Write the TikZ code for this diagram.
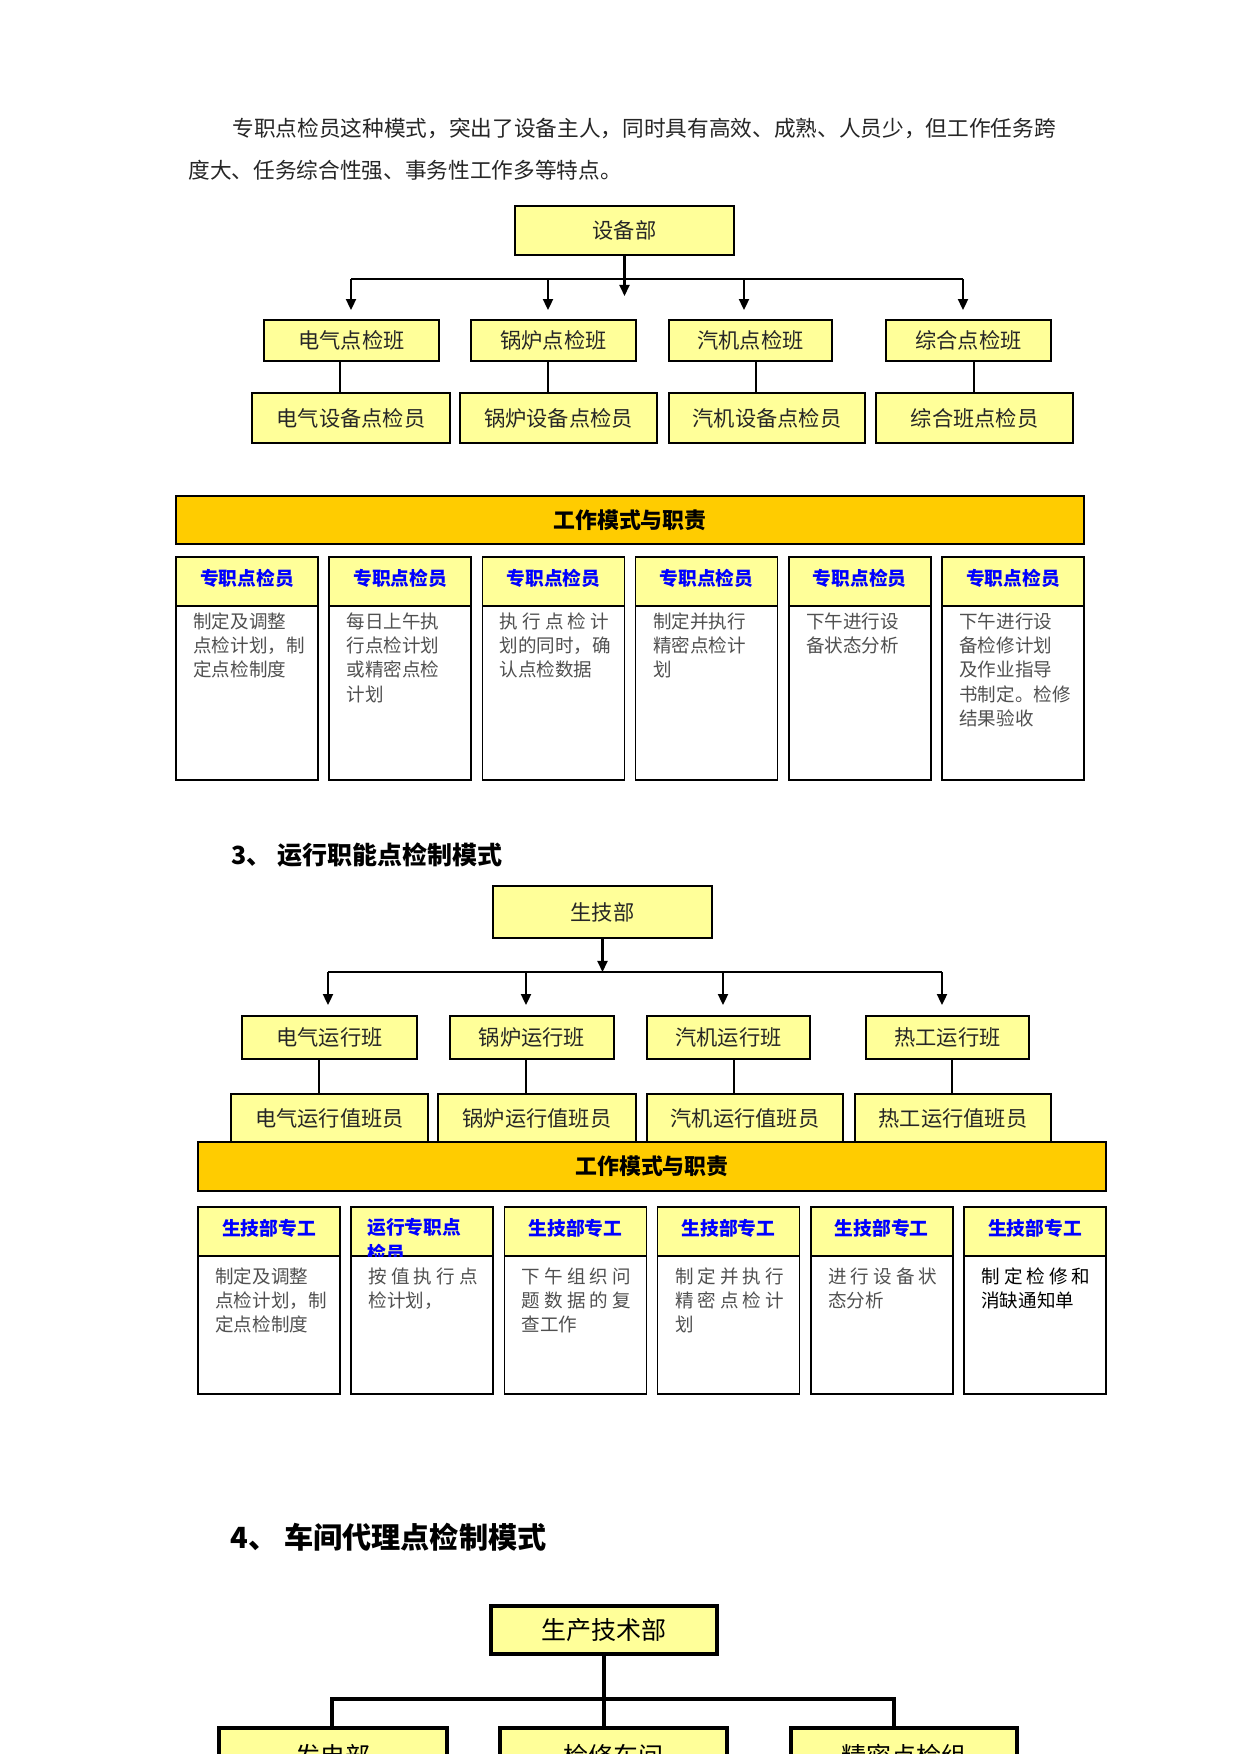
\documentclass[tikz,border=0pt]{standalone}
\usepackage{fontspec}
\setmainfont{Noto Sans CJK SC}
\usepackage{tikz}
\usetikzlibrary{positioning, arrows.meta}

\definecolor{boxyellow}{RGB}{255,255,153}
\definecolor{barorange}{RGB}{255,204,0}
\definecolor{bodygray}{RGB}{80,80,80}
\newcommand{\pxu}{0.48pt}
\newcommand{\spr}[1]{\makebox[52.3pt][s]{#1}}

\tikzset{
  unitbox/.style={draw, fill=boxyellow, line width=.9pt, inner sep=0pt, text=black!85,
    font=\fontsize{10.2pt}{12pt}\selectfont},
  dutybar/.style={draw, fill=barorange, line width=.9pt, inner sep=0pt,
    minimum width=908*\pxu, minimum height=48*\pxu, font=\fontsize{10.5pt}{12pt}\selectfont\bfseries},
  dutyhead/.style={draw, fill=boxyellow, line width=.7pt, inner sep=0pt, text depth=4pt,
    minimum width=142*\pxu, minimum height=49*\pxu, text=blue, font=\fontsize{9pt}{12pt}\selectfont\bfseries},
  dutycell/.style={draw, line width=.7pt, inner sep=0pt, minimum width=142*\pxu},
  dutytext/.style={anchor=north west, inner sep=0pt, align=left, text=bodygray,
    font=\fontsize{8.9pt}{11.7pt}\selectfont},
  heavybox/.style={draw, fill=boxyellow, line width=2.2pt, inner sep=0pt, font=\fontsize{12pt}{14pt}\selectfont},
  heavyline/.style={line width=2pt},
  plaintext/.style={anchor=west, inner sep=0pt, text=black!85},
}

\begin{document}
\begin{tikzpicture}[x=0.48pt, y=-0.48pt, >={Triangle[width=4.8pt,length=5.3pt]}]
  \useasboundingbox (0,0) rectangle (1241,1754);
  \fill[white] (0,0) rectangle (1241,1754);
  \clip (0,0) rectangle (1241,1754);

  % opening text
  \node[plaintext, font=\fontsize{10.4pt}{12pt}\selectfont] (para1) at (232,128)
    {专职点检员这种模式，突出了设备主人，同时具有高效、成熟、人员少，但工作任务跨};
  \node[plaintext, font=\fontsize{10.4pt}{12pt}\selectfont] (para2) at (188,170)
    {度大、任务综合性强、事务性工作多等特点。};

  %% equipment department chart
  \node[unitbox, minimum width=219*\pxu, minimum height=49*\pxu] (eqdept) at (624.5,230.5) {设备部};
  \foreach \i/\x/\w/\t in {1/351.5/175/电气点检班, 2/553.5/165/锅炉点检班,
                           3/750.5/163/汽机点检班, 4/968.5/165/综合点检班}
    \node[unitbox, minimum width=\w*\pxu, minimum height=41*\pxu] (eqcls\i) at (\x,340.5) {\t};
  \foreach \i/\x/\w/\t in {1/351/198/电气设备点检员, 2/558.5/197/锅炉设备点检员,
                           3/767/196/汽机设备点检员, 4/974.5/197/综合班点检员}
    \node[unitbox, minimum width=\w*\pxu, minimum height=50*\pxu] (eqmem\i) at (\x,418) {\t};

  \coordinate (eqbusL) at (351,279);
  \coordinate (eqbusR) at (963,279);
  \coordinate (eqtip) at (624.5,296);
  \draw[line width=.6pt] (eqbusL) -- (eqbusR);
  \draw[->, line width=1pt] (eqdept.south) -- (eqtip);
  \foreach \i/\x in {1/351, 2/548, 3/744, 4/963}
    \draw[->, line width=1pt, shorten >=9*\pxu] (\x,0 |- eqbusL) -- (\x,0 |- eqcls\i.north);
  \foreach \i/\x/\lw in {1/340/.5, 2/548/1.1, 3/756/.8, 4/974/.5}
    \draw[line width=\lw pt] (\x,0 |- eqcls\i.south) -- (\x,0 |- eqmem\i.north);

  % duties, inspectors
  \node[dutybar] (dutyA) at (630,520) {工作模式与职责};
  \foreach \i/\txt in {1/{制定及调整\\点检计划，制\\定点检制度},
                       2/{每日上午执\\行点检计划\\或精密点检\\计划},
                       3/{\spr{执 行 点 检 计}\\划的同时，确\\认点检数据},
                       4/{制定并执行\\精密点检计\\划},
                       5/{下午进行设\\备状态分析},
                       6/{下午进行设\\备检修计划\\及作业指导\\书制定。检修\\结果验收}} {
    \pgfmathsetmacro\xl{176+153.2*(\i-1)}
    \node[dutycell, minimum height=174*\pxu] (bodyA\i) at (\xl+71,693) {};
    \node[dutyhead] (headA\i) at (\xl+71,581.5) {专职点检员};
    \node[dutytext] (textA\i) at (\xl+17,612) {\txt};
  }

  % section 3
  \node[plaintext, text=black, font=\fontsize{12pt}{14pt}\selectfont\bfseries] (sec3) at (231,855)
    {3、 运行职能点检制模式};

  \node[unitbox, minimum width=219*\pxu, minimum height=52*\pxu] (prdept) at (602.5,912) {生技部};
  \foreach \i/\x/\w/\t in {1/329.5/175/电气运行班, 2/532/164/锅炉运行班,
                           3/728.5/163/汽机运行班, 4/947.5/163/热工运行班}
    \node[unitbox, minimum width=\w*\pxu, minimum height=43*\pxu] (prcls\i) at (\x,1037.5) {\t};
  \foreach \i/\x/\w/\t in {1/329.5/197/电气运行值班员, 2/537/198/锅炉运行值班员,
                           3/745/196/汽机运行值班员, 4/953/196/热工运行值班员}
    \node[unitbox, minimum width=\w*\pxu, minimum height=48*\pxu] (prmem\i) at (\x,1118) {\t};

  \coordinate (prbusL) at (328,972);
  \coordinate (prbusR) at (942,972);
  \draw[line width=.6pt] (prbusL) -- (prbusR);
  \draw[->, line width=1pt] (prdept.south) -- (prdept.south |- prbusL);
  \foreach \i/\x in {1/328, 2/526, 3/723, 4/942}
    \draw[->, line width=1pt, shorten >=10*\pxu] (\x,0 |- prbusL) -- (\x,0 |- prcls\i.north);
  \foreach \i/\x/\lw in {1/319/.5, 2/526/1.1, 3/734/1, 4/952/.7}
    \draw[line width=\lw pt] (\x,0 |- prcls\i.south) -- (\x,0 |- prmem\i.north);

  \node[dutybar, minimum height=49*\pxu] (dutyB) at (652,1166.5) {工作模式与职责};
  \foreach \i/\hd/\txt/\tc in {1/生技部专工/{制定及调整\\点检计划，制\\定点检制度}/bodygray,
                               2/{}/{\spr{按 值 执 行 点}\\检计划，}/bodygray,
                               3/生技部专工/{\spr{下 午 组 织 问}\\\spr{题 数 据 的 复}\\查工作}/bodygray,
                               4/生技部专工/{\spr{制 定 并 执 行}\\\spr{精 密 点 检 计}\\划}/bodygray,
                               5/生技部专工/{\spr{进 行 设 备 状}\\态分析}/bodygray,
                               6/生技部专工/{\spr{制 定 检 修 和}\\消缺通知单}/black} {
    \pgfmathsetmacro\xl{198+153.2*(\i-1)}
    \node[dutycell, minimum height=138*\pxu] (bodyB\i) at (\xl+71,1325) {};
    \node[dutyhead] (headB\i) at (\xl+71,1231.5) {\hd};
    \node[dutytext, text=\tc] (textB\i) at (\xl+17,1267) {\txt};
  }
  \begin{scope}
    \clip (headB2.south west) rectangle (headB2.north east);
    \node[dutytext, text=blue, font=\fontsize{9pt}{12.5pt}\selectfont\bfseries] (headB2txt) at (367,1218)
      {运行专职点\\检员};
  \end{scope}

  % section 4
  \node[plaintext, text=black, font=\fontsize{14pt}{16pt}\selectfont\bfseries] (sec4) at (230,1537)
    {4、 车间代理点检制模式};

  \node[heavybox, minimum width=226*\pxu, minimum height=48*\pxu] (techdept) at (604,1630) {生产技术部};
  \foreach \i/\x/\w/\t in {1/333/228/发电部, 2/613.5/227/检修车间, 3/904/226/精密点检组}
    \node[heavybox, minimum width=\w*\pxu, minimum height=56*\pxu] (shop\i) at (\x,1756) {\t};

  \coordinate (tbusL) at (332,1699);
  \coordinate (tbusR) at (894,1699);
  \draw[heavyline] (techdept.south) -- (techdept.south |- tbusL);
  \draw[heavyline, line cap=rect] (tbusL) -- (tbusR);
  \draw[heavyline] (tbusL) -- (tbusL |- shop1.north);
  \draw[heavyline] (techdept.south |- tbusL) -- (techdept.south |- shop2.north);
  \draw[heavyline] (tbusR) -- (tbusR |- shop3.north);
\end{tikzpicture}
\end{document}
